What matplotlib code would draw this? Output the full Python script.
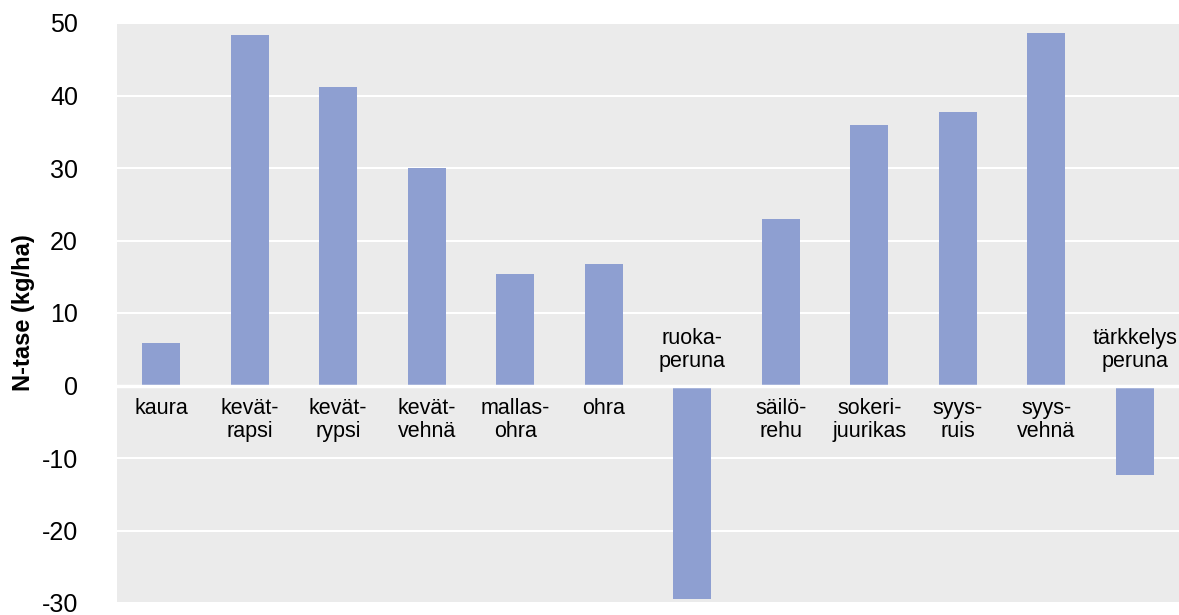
import matplotlib.pyplot as plt
import numpy as np

categories = ["kaura", "kevät-\nrapsi", "kevät-\nrypsi", "kevät-\nvehnä", "mallas-\nohra", "ohra",
              "ruoka-\nperuna", "säilö-\nrehu", "sokeri-\njuurikas", "syys-\nruis", "syys-\nvehnä",
              "tärkkelys\nperuna"]
values = [5.8, 48.3, 41.2, 30.0, 15.4, 16.8, -29.5, 23.0, 36.0, 37.7, 48.6, -12.3]
yticks = [-30, -20, -10, 0, 10, 20, 30, 40, 50]

plt.rcParams['font.family'] = ['Liberation Sans', 'DejaVu Sans']

fig = plt.figure(figsize=(11.79, 6.15), dpi=100)
ax = fig.add_axes([117/1179, 1 - 603/615, 1 - 117/1179, (603 - 23)/615])
ax.set_facecolor('#ebebeb')

x = np.arange(len(categories))
ax.bar(x, values, width=0.43, color='#8e9fd1', zorder=3)

ax.set_xlim(-0.5, len(categories) - 0.5)
ax.set_ylim(-30, 50)
ax.set_yticks(yticks)
ax.set_yticklabels([str(t) for t in yticks], fontsize=18)
ax.set_xticks([])
ax.tick_params(axis='y', length=0, pad=28)
ax.grid(axis='y', color='white', linewidth=1.5, zorder=1)
ax.axhline(0, color='white', linewidth=2.5, zorder=4)
for s in ax.spines.values():
    s.set_visible(False)

for xi, v, lab in zip(x, values, categories):
    if v >= 0:
        ax.annotate(lab, (xi, 0), xytext=(0, -9), textcoords='offset points',
                    ha='center', va='top', fontsize=15.5, linespacing=1.1)
    else:
        ax.annotate(lab, (xi, 0), xytext=(0, 10), textcoords='offset points',
                    ha='center', va='bottom', fontsize=15.5, linespacing=1.1)

ax.set_ylabel("N-tase (kg/ha)", fontsize=17, fontweight='bold', labelpad=5)

fig.savefig("out.png", dpi=100)
